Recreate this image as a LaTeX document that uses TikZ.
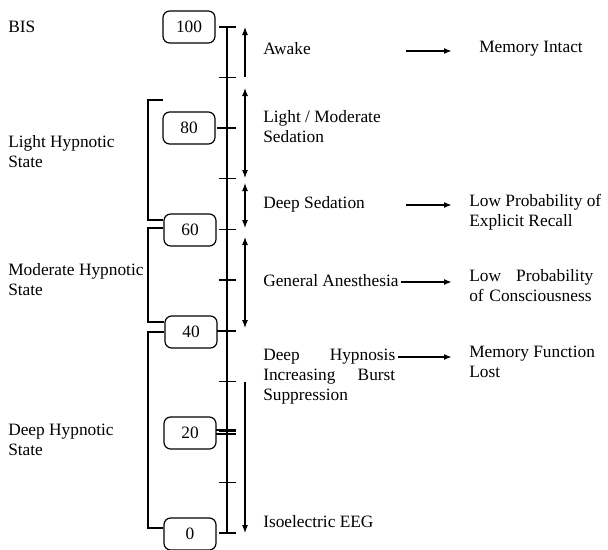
\documentclass[tikz,border=0pt]{standalone}
\usepackage{fontspec}
\setmainfont{Liberation Serif}
\usetikzlibrary{arrows.meta}

\begin{document}
\begin{tikzpicture}[x=0.75pt,y=-0.75pt,
    every node/.style={font=\fontsize{13}{15}\selectfont},
    level/.style={draw,rounded corners=5pt,line width=0.9pt,minimum width=39pt,minimum height=24pt,inner sep=0pt},
    txt/.style={anchor=west,inner sep=0pt,align=left},
    stage/.style={line width=0.8pt,{Latex[length=6pt,width=4.5pt]}-{Latex[length=6pt,width=4.5pt]}},
    outarr/.style={line width=1.2pt,-{Latex[length=6pt,width=4.5pt]}},
    brack/.style={line width=0.9pt}]
    \useasboundingbox (0,0) rectangle (608,550);
    % BIS scale
    \coordinate (top) at (227,27);
    \coordinate (bot) at (227,533);
    \draw[line width=1.3pt] (top) -- (bot);
    \foreach \v in {0,10,...,100}
      \draw[line width=1pt] (219,{533-5.06*\v}) -- (236,{533-5.06*\v});
    \draw[line width=2pt] (217,128) -- (236,128);
    \draw[line width=2pt] (217,331) -- (236,331);
    \draw[line width=0.9pt] (216,430) -- (236,430) (216,434) -- (236,434);
    % level boxes
    \node[level] (b100) at (189,27) {100};
    \node[level] (b80) at (189,128) {80};
    \node[level] (b60) at (190,230) {60};
    \node[level] (b40) at (191,332) {40};
    \node[level] (b20) at (190,433) {20};
    \node[level] (b0) at (190,534) {0};
    % hypnotic states
    \node[txt] (bis) at (8,27) {BIS};
    \node[txt] (light) at (8,152) {Light Hypnotic\\State};
    \node[txt] (moder) at (8,280) {Moderate Hypnotic\\State};
    \node[txt] (deep) at (8,440) {Deep Hypnotic\\State};
    \draw[brack] (163,100) -- (148,100) -- (148,220) -- (b60.west |- 0,220);
    \draw[brack] (b60.west |- 0,228) -- (148,228) -- (148,322) -- (b40.west |- 0,322);
    \draw[brack] (b40.west |- 0,332) -- (148,332) -- (148,528) -- (b0.west |- 0,528);
    % sedation stages
    \draw[line width=0.8pt,-{Latex[length=6pt,width=4.5pt]}] (245,77) -- (245,27);
    \draw[stage] (245,88) -- (245,178);
    \draw[stage] (245,183) -- (245,228);
    \draw[stage] (245,237) -- (245,328);
    \draw[line width=0.8pt,-{Latex[length=6pt,width=4.5pt]}] (245,382) -- (245,533);
    \node[txt] (awake) at (263,49) {Awake};
    \node[txt] (lmsed) at (263,127) {Light / Moderate\\Sedation};
    \node[txt] (dsed) at (263,204) {Deep Sedation};
    \node[txt] (ga) at (263,281) {General Anesthesia};
    \node[txt,text width=99pt] (dhyp) at (263,377) {Deep\hfill Hypnosis\\Increasing\hfill Burst\\Suppression};
    \node[txt] (iso) at (263,522) {Isoelectric EEG};
    % outcomes
    \node[txt] (mem) at (479,49) {Memory Intact};
    \node[txt] (recall) at (469,212) {Low Probability of\\Explicit Recall};
    \node[txt,text width=93pt] (consc) at (469,286) {Low\hfill Probability\\of Consciousness};
    \node[txt] (lost) at (469,362) {Memory Function\\Lost};
    \draw[outarr] (406,51) -- (452,51);
    \draw[outarr] (406,205) -- (452,205);
    \draw[outarr] (401,282) -- (452,282);
    \draw[outarr] (398,357) -- (452,357);
\end{tikzpicture}
\end{document}
